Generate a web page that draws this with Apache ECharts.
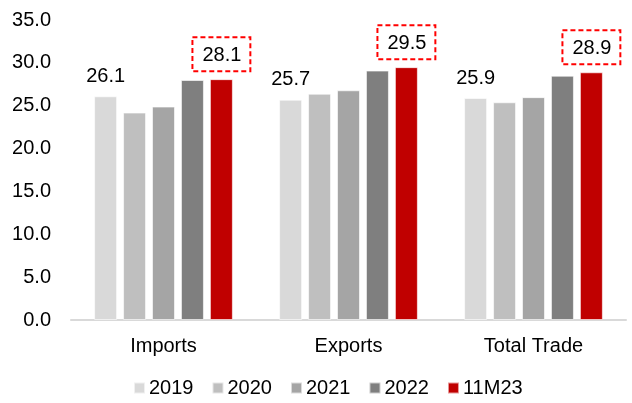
<!DOCTYPE html>
<html>
<head>
<meta charset="utf-8">
<script src="https://cdn.jsdelivr.net/npm/echarts@6/dist/echarts.min.js"></script>
<style>
  html, body { margin: 0; padding: 0; background: #fff; }
  #chart { width: 632px; height: 403px; }
</style>
</head>
<body>
<div id="chart"></div>
<script>
// Trade figures by flow, one series per period
const categories = ['Imports', 'Exports', 'Total Trade'];
const periods = ['2019', '2020', '2021', '2022', '11M23'];
const values2019 = [26.1, 25.7, 25.9];
const values2020 = [24.2, 26.4, 25.4];
const values2021 = [24.9, 26.8, 26.0];
const values2022 = [28.0, 29.1, 28.5];
const values11M23 = [28.1, 29.5, 28.9];
const yTicks = { min: 0, max: 35, interval: 5 };

const colors = ['#d9d9d9', '#bfbfbf', '#a5a5a5', '#7f7f7f', '#c00000'];
const seriesValues = [values2019, values2020, values2021, values2022, values11M23];
const FONT = 'Liberation Sans, Arial, sans-serif';
const FS = 20;

const series = periods.map((name, i) => {
  const s = {
    name: name,
    type: 'bar',
    data: seriesValues[i],
    barGap: '26%',
    barCategoryGap: '25%',
    itemStyle: { color: colors[i], borderColor: 'rgba(255,255,255,0.6)', borderWidth: 1 }
  };
  if (i === 0) {
    s.label = {
      show: true, position: 'top', distance: 10,
      color: '#000', fontFamily: FONT, fontSize: FS,
      formatter: p => p.value.toFixed(1)
    };
  }
  if (i === periods.length - 1) {
    s.label = {
      show: true, position: 'top', distance: 8,
      color: '#000', fontFamily: FONT, fontSize: FS,
      padding: [8, 9, 6, 10],
      borderColor: '#ff0000', borderWidth: 2, borderType: [5, 3],
      formatter: p => p.value.toFixed(1)
    };
  }
  return s;
});

const chart = echarts.init(document.getElementById('chart'), null, { renderer: 'canvas' });
chart.setOption({
  animation: false,
  backgroundColor: '#ffffff',
  grid: { left: 71, right: 6, top: 20, bottom: 83, containLabel: false },
  legend: {
    bottom: 0, left: 128,
    itemWidth: 11, itemHeight: 11, itemGap: 18,
    icon: 'rect',
    textStyle: { color: '#000', fontFamily: FONT, fontSize: FS, padding: [0, 0, 0, -1] },
    data: periods
  },
  xAxis: {
    type: 'category',
    data: categories,
    axisLine: { lineStyle: { color: '#d9d9d9', width: 2 } },
    axisTick: { show: false },
    axisLabel: { color: '#000', fontFamily: FONT, fontSize: FS, margin: 16 }
  },
  yAxis: {
    type: 'value',
    min: yTicks.min, max: yTicks.max, interval: yTicks.interval,
    axisLine: { show: false },
    axisTick: { show: false },
    splitLine: { show: false },
    axisLabel: { color: '#000', fontFamily: FONT, fontSize: FS, margin: 20, formatter: v => v.toFixed(1) }
  },
  series: series
});
</script>
</body>
</html>
